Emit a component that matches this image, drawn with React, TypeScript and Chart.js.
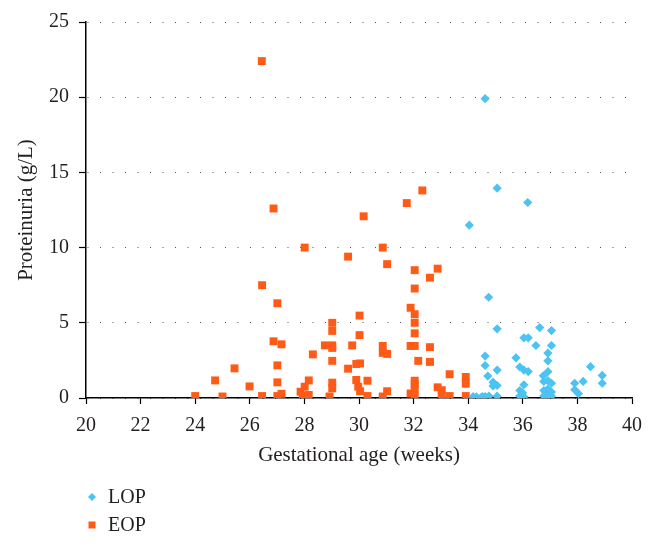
import { useEffect, useRef } from 'react';
import { Chart, registerables } from 'chart.js';

Chart.register(...registerables);

// Early-onset preeclampsia (EOP): gestational age (weeks) and proteinuria (g/L)
const eopWeeks = [
  24.0, 24.73, 25.0, 25.44, 25.99, 26.44, 26.45, 26.45, 26.87, 26.87,
  27.01, 27.01, 27.01, 27.01, 27.16, 27.16, 27.86, 27.94, 28.01, 28.01,
  28.16, 28.16, 28.31, 28.75, 28.92, 29.02, 29.02, 29.02, 29.02, 29.02,
  29.02, 29.02, 29.6, 29.6, 29.75, 29.9, 29.9, 29.97, 30.02, 30.02,
  30.04, 30.04, 30.17, 30.31, 30.31, 30.87, 30.87, 30.87, 30.87, 31.03,
  31.03, 31.03, 31.75, 31.89, 31.89, 31.89, 32.04, 32.04, 32.04, 32.04,
  32.04, 32.04, 32.04, 32.04, 32.04, 32.04, 32.17, 32.32, 32.6, 32.6,
  32.6, 32.88, 32.88, 33.03, 33.03, 33.32, 33.32, 33.91, 33.91, 33.91,
];
const eopProteinuria = [
  0.13, 1.17, 0.1, 1.97, 0.77, 22.4, 7.5, 0.13, 12.6, 3.77,
  6.3, 2.17, 1.04, 0.13, 3.57, 0.28, 0.42, 0.13, 10.0, 0.75,
  1.17, 0.2, 2.9, 3.5, 0.1, 5.0, 4.46, 3.5, 3.33, 2.47,
  1.02, 0.64, 9.4, 1.95, 3.5, 2.26, 1.2, 0.75, 5.48, 4.18,
  2.3, 0.45, 12.08, 1.15, 0.13, 10.0, 3.46, 3.0, 0.1, 8.9,
  2.93, 0.45, 12.96, 6.0, 3.46, 0.3, 8.5, 7.28, 5.57, 5.0,
  4.3, 3.46, 1.15, 0.9, 0.6, 0.15, 2.47, 13.8, 8.0, 3.38,
  2.4, 8.6, 0.71, 0.52, 0.13, 1.58, 0.13, 1.4, 0.95, 0.13,
];

// Late-onset preeclampsia (LOP)
const lopWeeks = [
  34.04, 34.18, 34.3, 34.48, 34.52, 34.62, 34.62, 34.62, 34.62, 34.72,
  34.75, 34.76, 34.91, 34.91, 35.06, 35.06, 35.06, 35.06, 35.06, 35.75,
  35.89, 35.89, 35.89, 35.99, 36.04, 36.04, 36.04, 36.04, 36.18, 36.2,
  36.2, 36.48, 36.62, 36.75, 36.77, 36.77, 36.77, 36.85, 36.92, 36.92,
  36.92, 36.92, 36.92, 36.92, 37.05, 37.05, 37.05, 37.05, 37.05, 37.9,
  37.9, 38.04, 38.21, 38.48, 38.91, 38.91,
];
const lopProteinuria = [
  11.49, 0.09, 0.08, 0.05, 0.09, 19.9, 2.79, 2.16, 0.1, 1.46,
  6.7, 0.13, 1.05, 0.8, 13.95, 4.6, 1.86, 0.83, 0.12, 2.67,
  2.06, 0.5, 0.13, 0.35, 4.0, 1.86, 0.88, 0.09, 13.0, 4.0,
  1.76, 3.49, 4.68, 1.48, 1.1, 0.5, 0.13, 0.3, 2.99, 2.47,
  1.75, 1.15, 0.6, 0.13, 4.48, 3.49, 0.98, 0.4, 0.13, 0.98,
  0.55, 0.29, 1.1, 2.08, 1.5, 0.98,
];

const seriesLabels = ['LOP', 'EOP'];
const xAxisTitle = 'Gestational age (weeks)';
const yAxisTitle = 'Proteinuria (g/L)';
const xMin = 20;
const xMax = 40;
const xStep = 2;
const yMin = 0;
const yMax = 25;
const yStep = 5;

const LOP_COLOR = '#4BC3F3';
const EOP_COLOR = '#FF5A16';
const TEXT_COLOR = '#231F20';
const FONT_FAMILY = '"Liberation Serif", "DejaVu Serif", serif';

const legendPlugin = {
  id: 'verticalLegend',
  afterDraw(chart: any) {
    const ctx = chart.ctx as CanvasRenderingContext2D;
    ctx.save();
    chart.data.datasets.forEach((ds: any, i: number) => {
      const cy = 497 + i * 28;
      const cx = 92;
      ctx.fillStyle = ds.backgroundColor;
      ctx.beginPath();
      if (ds.pointStyle === 'rectRot') {
        const r = 4;
        ctx.moveTo(cx, cy - r);
        ctx.lineTo(cx + r, cy);
        ctx.lineTo(cx, cy + r);
        ctx.lineTo(cx - r, cy);
        ctx.closePath();
      } else {
        ctx.rect(cx - 3.5, cy - 3.5, 7, 7);
      }
      ctx.fill();
      ctx.fillStyle = TEXT_COLOR;
      ctx.font = `20px ${FONT_FAMILY}`;
      ctx.textBaseline = 'middle';
      ctx.textAlign = 'left';
      ctx.fillText(ds.label, 108, cy + 1);
    });
    ctx.restore();
  },
};

export default function App() {
  const canvasRef = useRef<HTMLCanvasElement | null>(null);

  useEffect(() => {
    if (!canvasRef.current) return;
    const lopPoints = lopWeeks.map((w, i) => ({ x: w, y: lopProteinuria[i] }));
    const eopPoints = eopWeeks.map((w, i) => ({ x: w, y: eopProteinuria[i] }));

    const chart = new Chart(canvasRef.current, {
      type: 'scatter',
      data: {
        datasets: [
          {
            label: seriesLabels[0],
            data: lopPoints,
            pointStyle: 'rectRot',
            pointRadius: 4.6,
            pointHoverRadius: 4.6,
            backgroundColor: LOP_COLOR,
            borderColor: LOP_COLOR,
            borderWidth: 0,
          },
          {
            label: seriesLabels[1],
            data: eopPoints,
            pointStyle: 'rect',
            pointRadius: 5.6,
            pointHoverRadius: 5.6,
            backgroundColor: EOP_COLOR,
            borderColor: EOP_COLOR,
            borderWidth: 0,
          },
        ],
      },
      options: {
        animation: false,
        responsive: false,
        maintainAspectRatio: false,
        layout: { padding: { top: 22, right: 25, bottom: 78, left: 0 } },
        plugins: {
          legend: { display: false },
          tooltip: { enabled: false },
        },
        scales: {
          x: {
            type: 'linear',
            min: xMin,
            max: xMax,
            afterFit: (scale: any) => {
              scale.height = 70;
            },
            ticks: {
              stepSize: xStep,
              color: TEXT_COLOR,
              font: { family: FONT_FAMILY, size: 20 },
              padding: 10,
              maxRotation: 0,
            },
            grid: {
              display: true,
              drawOnChartArea: false,
              drawTicks: true,
              tickLength: 6,
              tickColor: '#000',
              tickWidth: 1.2,
            },
            border: { display: true, color: '#000', width: 1.5 },
            title: {
              display: true,
              text: xAxisTitle,
              color: TEXT_COLOR,
              font: { family: FONT_FAMILY, size: 21 },
              padding: { top: 0, bottom: 0 },
            },
          },
          y: {
            type: 'linear',
            min: yMin,
            max: yMax,
            afterFit: (scale: any) => {
              scale.width = 86;
            },
            ticks: {
              stepSize: yStep,
              color: TEXT_COLOR,
              font: { family: FONT_FAMILY, size: 20 },
              padding: 10,
            },
            grid: {
              display: true,
              drawOnChartArea: true,
              drawTicks: true,
              tickLength: 7,
              tickColor: '#000',
              tickWidth: 1.2,
              color: '#555',
              lineWidth: 1,
            },
            border: { display: true, color: '#000', width: 1.5, dash: [1, 11.5], dashOffset: -1 },
            title: {
              display: true,
              text: yAxisTitle,
              color: TEXT_COLOR,
              font: { family: FONT_FAMILY, size: 21 },
              padding: { top: 14, bottom: 0 },
            },
          },
        },
      },
      plugins: [legendPlugin],
    });

    return () => chart.destroy();
  }, []);

  return (
    <div style={{ position: 'absolute', left: 0, top: 0, width: 657, height: 546, background: '#fff' }}>
      <canvas ref={canvasRef} width={657} height={546} style={{ width: 657, height: 546, display: 'block' }} />
    </div>
  );
}
